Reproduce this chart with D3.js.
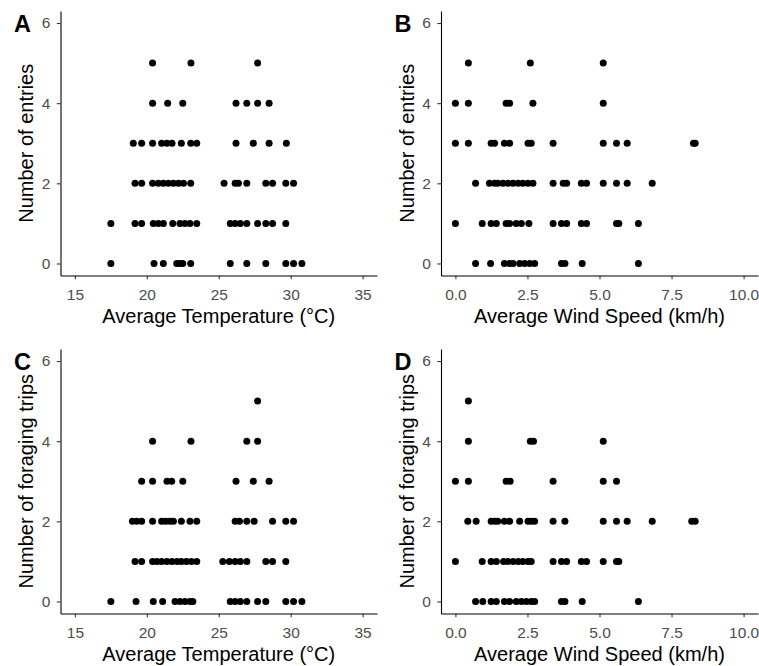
<!DOCTYPE html>
<html lang="en">
<head>
<meta charset="utf-8">
<title>Entries and foraging trips vs weather</title>
<script src="https://d3js.org/d3.v7.min.js"></script>
<style>
  body { margin: 0; background: #fff; }
  svg text { font-family: "Liberation Sans", Arial, sans-serif; }
</style>
</head>
<body>
<div id="chart"></div>
<script>
// values, one array per count level (index = count)
var tempEntries = [
  [17.5, 20.5, 21.15, 22.08, 22.3, 22.5, 23.05, 25.8, 26.95, 28.27, 29.66, 30.2, 30.78],
  [17.5, 19.18, 19.64, 20.45, 20.8, 21.15, 21.8, 22.3, 22.65, 23.0, 23.47, 25.8, 26.14, 26.5, 26.95, 27.7, 28.27, 28.74, 29.66],
  [19.18, 19.64, 20.4, 20.8, 21.15, 21.5, 21.85, 22.2, 22.55, 23.05, 25.37, 26.14, 26.37, 26.95, 28.27, 28.74, 29.66, 30.2],
  [19.06, 19.64, 20.4, 21.03, 21.4, 21.75, 22.4, 23.05, 23.47, 26.2, 27.4, 28.5, 29.7],
  [20.4, 21.45, 22.5, 26.2, 26.95, 27.7, 28.5],
  [20.4, 23.07, 27.7]
];
var windEntries = [
  [0.7, 1.22, 1.7, 1.88, 2.0, 2.23, 2.4, 2.58, 2.75, 3.68, 3.8, 4.4, 6.35],
  [0, 0.93, 1.24, 1.42, 1.76, 1.88, 2.11, 2.29, 2.55, 3.39, 3.68, 3.86, 4.37, 4.55, 5.59, 5.67, 6.35],
  [0.7, 1.18, 1.36, 1.47, 1.65, 1.83, 2.0, 2.18, 2.34, 2.52, 2.69, 3.39, 3.74, 3.86, 4.37, 4.55, 5.13, 5.59, 5.96, 6.83],
  [0, 0.45, 1.24, 1.36, 1.7, 1.88, 2.52, 2.63, 3.39, 5.13, 5.59, 5.96, 8.26, 8.32],
  [0, 0.45, 1.76, 1.88, 2.69, 5.13],
  [0.45, 2.6, 5.13]
];
var tempTrips = [
  [17.5, 19.25, 20.45, 21.1, 21.96, 22.3, 22.65, 23.0, 23.2, 25.8, 26.14, 26.5, 26.95, 27.7, 28.27, 29.66, 30.2, 30.78],
  [19.18, 19.64, 20.4, 20.7, 21.03, 21.4, 21.75, 22.1, 22.4, 22.75, 23.1, 23.47, 25.28, 25.74, 26.14, 26.5, 26.95, 28.27, 28.74, 29.66],
  [19.0, 19.3, 19.64, 20.4, 21.03, 21.3, 21.6, 21.85, 22.4, 23.0, 23.47, 26.14, 26.44, 26.95, 27.46, 28.74, 29.66, 30.2],
  [19.64, 20.4, 21.4, 21.73, 22.5, 26.2, 27.4, 28.5],
  [20.4, 23.07, 26.95, 27.7],
  [27.7]
];
var windTrips = [
  [0.7, 0.95, 1.24, 1.42, 1.7, 1.88, 2.11, 2.29, 2.46, 2.63, 2.75, 3.68, 3.8, 4.4, 6.35],
  [0, 0.93, 1.24, 1.42, 1.67, 1.82, 2.0, 2.18, 2.34, 2.52, 2.63, 3.39, 3.68, 3.86, 4.37, 4.55, 5.13, 5.59, 5.67],
  [0.43, 0.72, 1.24, 1.36, 1.47, 1.7, 1.88, 2.23, 2.52, 2.63, 2.75, 3.39, 3.8, 5.13, 5.59, 5.96, 6.83, 8.2, 8.32],
  [0, 0.45, 1.76, 1.9, 3.39, 5.13, 5.59],
  [0.45, 2.6, 2.71, 5.13],
  [0.45]
];

var tempTicks = [15, 20, 25, 30, 35];
var windTicks = [0, 2.5, 5, 7.5, 10];
var countTicks = [0, 2, 4, 6];

var width = 759, height = 666;

var svg = d3.select("#chart").append("svg")
    .attr("width", width)
    .attr("height", height);

var panels = [
  {tag: "A", rows: tempEntries, xdom: [15, 35], xticks: tempTicks, fmt: d3.format("d"),
   xlab: "Average Temperature (\u00B0C)", ylab: "Number of entries", left: 60.5, right: 377, top: 11, bottom: 275.5},
  {tag: "B", rows: windEntries, xdom: [0, 10], xticks: windTicks, fmt: d3.format(".1f"),
   xlab: "Average Wind Speed (km/h)", ylab: "Number of entries", left: 441, right: 758, top: 11, bottom: 275.5},
  {tag: "C", rows: tempTrips, xdom: [15, 35], xticks: tempTicks, fmt: d3.format("d"),
   xlab: "Average Temperature (\u00B0C)", ylab: "Number of foraging trips", left: 60.5, right: 377, top: 349, bottom: 613.5},
  {tag: "D", rows: windTrips, xdom: [0, 10], xticks: windTicks, fmt: d3.format(".1f"),
   xlab: "Average Wind Speed (km/h)", ylab: "Number of foraging trips", left: 441, right: 758, top: 349, bottom: 613.5}
];

panels.forEach(function(p) {
  // ggplot-style 5% expansion around the limits
  var xpad = (p.xdom[1] - p.xdom[0]) * 0.05;
  var x = d3.scaleLinear()
      .domain([p.xdom[0] - xpad, p.xdom[1] + xpad])
      .range([p.left, p.right]);
  var y = d3.scaleLinear()
      .domain([-0.3, 6.3])
      .range([p.bottom, p.top]);

  var pts = [];
  p.rows.forEach(function(row, count) {
    row.forEach(function(v) { pts.push({x: v, y: count}); });
  });

  var g = svg.append("g");

  g.selectAll("circle")
    .data(pts)
    .enter()
    .append("circle")
      .attr("cx", function(d) { return x(d.x); })
      .attr("cy", function(d) { return y(d.y); })
      .attr("r", 3.5)
      .style("fill", "#000");

  var xa = g.append("g")
      .attr("transform", "translate(0," + p.bottom + ")")
      .call(d3.axisBottom(x).tickValues(p.xticks).tickFormat(p.fmt)
              .tickSizeInner(3.7).tickSizeOuter(0).tickPadding(9.5));
  var ya = g.append("g")
      .attr("transform", "translate(" + p.left + ",0)")
      .call(d3.axisLeft(y).tickValues(countTicks).tickFormat(d3.format("d"))
              .tickSizeInner(3.7).tickSizeOuter(0).tickPadding(6.5));

  [xa, ya].forEach(function(a) {
    a.select(".domain").attr("stroke", "#000").attr("stroke-width", 1.1);
    a.selectAll(".tick line").attr("stroke", "#333").attr("stroke-width", 1.1);
    a.selectAll(".tick text")
      .attr("fill", "#4d4d4d")
      .style("font-size", "15.5px")
      .style("font-family", "'Liberation Sans', Arial, sans-serif");
  });

  g.append("text")
    .attr("x", (p.left + p.right) / 2)
    .attr("y", p.bottom + 47.5)
    .attr("text-anchor", "middle")
    .style("font-size", "20px")
    .style("fill", "#000")
    .text(p.xlab);

  var ty = (p.top + p.bottom) / 2;
  var tx = p.left - 27.5;
  g.append("text")
    .attr("transform", "translate(" + tx + "," + ty + ") rotate(-90)")
    .attr("text-anchor", "middle")
    .style("font-size", "20px")
    .style("fill", "#000")
    .text(p.ylab);

  g.append("text")
    .attr("x", p.left - 46.5)
    .attr("y", y(6) + 9)
    .style("font-size", "23.5px")
    .style("font-weight", "bold")
    .style("fill", "#000")
    .text(p.tag);
});
</script>
</body>
</html>
